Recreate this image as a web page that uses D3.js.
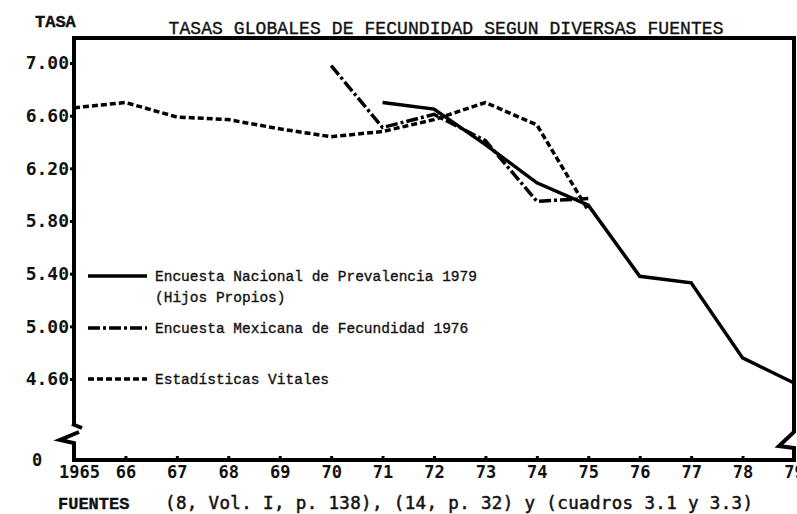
<!DOCTYPE html>
<html>
<head>
<meta charset="utf-8">
<title>Tasas globales de fecundidad</title>
<script src="https://cdn.jsdelivr.net/npm/d3@7"></script>
<style>
  body { margin: 0; background: #fff; }
  .mono { font-family: "Liberation Mono", monospace; stroke: #111; stroke-width: 0.35px; }
  .num { font-family: "DejaVu Sans Mono", monospace; font-weight: bold; }
  .src { font-family: "DejaVu Sans Mono", monospace; stroke: #111; stroke-width: 0.5px; }
</style>
</head>
<body>
<script>
// --- data ---
var yearTicks = [1965, 1966, 1967, 1968, 1969, 1970, 1971, 1972, 1973, 1974, 1975, 1976, 1977, 1978, 1979]
var yearLabels = ["1965", "66", "67", "68", "69", "70", "71", "72", "73", "74", "75", "76", "77", "78", "79"]
var rateTicks = [7.00, 6.60, 6.20, 5.80, 5.40, 5.00, 4.60]

var yearsENP = [1971, 1972, 1973, 1974, 1975, 1976, 1977, 1978, 1979]
var valuesENP = [6.70, 6.65, 6.38, 6.09, 5.92, 5.38, 5.33, 4.76, 4.57]

var yearsEMF = [1970, 1971, 1972, 1973, 1974, 1975]
var valuesEMF = [6.98, 6.51, 6.61, 6.41, 5.95, 5.97]

var yearsEV = [1965, 1966, 1967, 1968, 1969, 1970, 1971, 1972, 1973, 1974, 1975]
var valuesEV = [6.66, 6.70, 6.59, 6.57, 6.50, 6.44, 6.48, 6.57, 6.70, 6.53, 5.88]

var legendLabels = ["Encuesta Nacional de Prevalencia 1979", "Encuesta Mexicana de Fecundidad 1976", "Estadísticas Vitales"]

var width = 797, height = 514

var svg = d3.select("body").append("svg").attr("width", width).attr("height", height)
svg.append("rect").attr("width", width).attr("height", height).attr("fill", "#fff")

var x = d3.scaleLinear().domain([1965, 1979]).range([74, 794])
var y = d3.scaleLinear().domain([4.60, 7.00]).range([379, 63])
var yBottom = 460

// title and axis titles
svg.append("text").attr("class", "mono").attr("x", 446).attr("y", 34).attr("text-anchor", "middle")
  .attr("font-size", "18px").attr("fill", "#111").attr("textLength", 555)
  .text("TASAS GLOBALES DE FECUNDIDAD SEGUN DIVERSAS FUENTES")
svg.append("text").attr("class", "mono").attr("x", 35).attr("y", 27)
  .attr("font-size", "17px").attr("font-weight", "bold").attr("fill", "#111").text("TASA")

// frame with axis breaks
var frame = svg.append("g").attr("fill", "none").attr("stroke", "#000").attr("stroke-width", 4).attr("stroke-linejoin", "miter")
frame.append("path").attr("d", "M74,424 V38 H794 V432 L779,446 L794,448 V" + yBottom)
frame.append("path").attr("d", "M72,424 L82,428")
frame.append("path").attr("d", "M79,432 L60,440 L74,443 V" + yBottom + " H796")

// y axis
var yAxis = d3.axisLeft(y).tickValues(rateTicks).tickFormat(d3.format(".2f")).tickSize(4).tickPadding(1)
var ya = svg.append("g").attr("transform", "translate(74,0)").call(yAxis)
ya.select(".domain").remove()
ya.selectAll(".tick line").attr("stroke-width", 3)
ya.selectAll(".tick text").attr("class", "num").attr("font-size", "18px").attr("fill", "#111")

svg.append("text").attr("class", "num").attr("x", 37).attr("y", yBottom).attr("dy", "0.35em")
  .attr("text-anchor", "middle").attr("font-size", "17px").attr("fill", "#111").text("0")

// x axis
var xAxis = d3.axisBottom(x).tickValues(yearTicks).tickFormat(function(d, i) { return yearLabels[i] })
  .tickSizeInner(-4).tickSizeOuter(0).tickPadding(6)
var xa = svg.append("g").attr("transform", "translate(0," + yBottom + ")").call(xAxis)
xa.select(".domain").remove()
xa.selectAll(".tick line").attr("stroke-width", 3)
xa.selectAll(".tick text").attr("class", "num").attr("font-size", "17px").attr("fill", "#111")
  .attr("dx", function(d) { return d == 1965 ? 5 : 0 })

// series
var line = d3.line().x(function(d) { return x(d[0]) }).y(function(d) { return y(d[1]) })
var zip = function(a, b) { return a.map(function(v, i) { return [v, b[i]] }) }

var series = [
  { pts: zip(yearsEV, valuesEV), dash: "6,3" },
  { pts: zip(yearsEMF, valuesEMF), dash: "12,3,3,3" },
  { pts: zip(yearsENP, valuesENP), dash: null }
]
series.forEach(function(s) {
  svg.append("path").datum(s.pts).attr("d", line)
    .attr("fill", "none").attr("stroke", "#000").attr("stroke-width", 3.5)
    .attr("stroke-dasharray", s.dash)
})

// legend
var legendY = [276, 328, 379]
var legendDash = [null, "12,3,3,3", "6,3"]
legendLabels.forEach(function(lab, i) {
  svg.append("line").attr("x1", 88).attr("x2", 147).attr("y1", legendY[i]).attr("y2", legendY[i])
    .attr("stroke", "#000").attr("stroke-width", 3.5).attr("stroke-dasharray", legendDash[i])
  svg.append("text").attr("class", "mono").attr("x", 155).attr("y", legendY[i]).attr("dy", "0.35em")
    .attr("font-size", "14.5px").attr("fill", "#111").text(lab)
})
svg.append("text").attr("class", "mono").attr("x", 155).attr("y", 297).attr("dy", "0.35em")
  .attr("font-size", "14.5px").attr("fill", "#111").text("(Hijos Propios)")

// sources
svg.append("text").attr("class", "mono").attr("x", 58).attr("y", 509)
  .attr("font-size", "17px").attr("font-weight", "bold").attr("fill", "#111").text("FUENTES")
svg.append("text").attr("class", "src").attr("x", 165).attr("y", 509)
  .attr("font-size", "17.5px").attr("fill", "#111").attr("textLength", 588)
  .text("(8, Vol. I, p. 138), (14, p. 32) y (cuadros 3.1 y 3.3)")
</script>
</body>
</html>
